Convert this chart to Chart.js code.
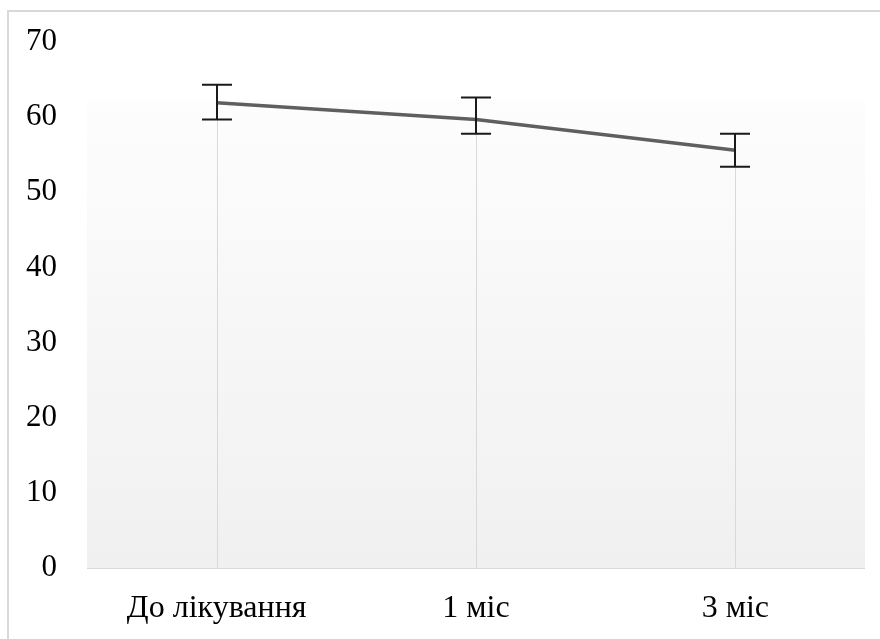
<!DOCTYPE html>
<html>
<head>
<meta charset="utf-8">
<script src="https://cdn.jsdelivr.net/npm/chart.js@4"></script>
<style>
  html, body { margin: 0; padding: 0; background: #fff; overflow: hidden; }
  #wrap { position: relative; width: 880px; height: 639px; }
  #frame { position: absolute; left: 7px; top: 10px; width: 900px; height: 700px;
           border: 2px solid #d9d9d9; box-sizing: border-box; pointer-events: none; }
  canvas { position: absolute; left: 0; top: 0; }
</style>
</head>
<body>
<div id="wrap">
  <canvas id="c" width="880" height="639"></canvas>
  <div id="frame"></div>
</div>
<script>
// Measurement periods
const periods = ['До лікування', '1 міс', '3 міс'];
// Mean values
const means = [61.9, 59.7, 55.6];
// Error bar extents above and below the mean
const errUp = [2.4, 2.9, 2.2];
const errDown = [2.2, 1.9, 2.2];
// Y-axis range
const yMin = 0, yMax = 70, yStep = 10;

const FONT = 'Liberation Serif, "Times New Roman", serif';

// Gradient panel behind the plot
const panelPlugin = {
  id: 'panel',
  beforeDraw(chart) {
    const { ctx, chartArea: a } = chart;
    const top = a.top + 58;
    const g = ctx.createLinearGradient(0, top, 0, a.bottom);
    g.addColorStop(0, '#fdfdfd');
    g.addColorStop(1, '#f0f0f0');
    ctx.save();
    ctx.fillStyle = g;
    ctx.fillRect(a.left, top, a.right - a.left, a.bottom - top);
    ctx.restore();
  }
};

// Drop lines from each point down to the category axis
const dropLinePlugin = {
  id: 'dropLines',
  beforeDatasetsDraw(chart) {
    const { ctx, chartArea: a } = chart;
    const meta = chart.getDatasetMeta(0);
    ctx.save();
    ctx.strokeStyle = '#d9d9d9';
    ctx.lineWidth = 1;
    meta.data.forEach(pt => {
      const x = Math.round(pt.x) + 0.5;
      ctx.beginPath();
      ctx.moveTo(x, pt.y);
      ctx.lineTo(x, a.bottom);
      ctx.stroke();
    });
    // category axis line
    ctx.beginPath();
    ctx.moveTo(a.left, Math.round(a.bottom) + 0.5);
    ctx.lineTo(a.right, Math.round(a.bottom) + 0.5);
    ctx.stroke();
    ctx.restore();
  }
};

// Error bars with caps
const errorBarPlugin = {
  id: 'errorBars',
  afterDatasetsDraw(chart) {
    const { ctx } = chart;
    const y = chart.scales.y;
    const meta = chart.getDatasetMeta(0);
    ctx.save();
    ctx.strokeStyle = '#1a1a1a';
    ctx.lineWidth = 2;
    meta.data.forEach((pt, i) => {
      const x = Math.round(pt.x);
      const yt = y.getPixelForValue(means[i] + errUp[i]);
      const yb = y.getPixelForValue(means[i] - errDown[i]);
      const cap = 15;
      ctx.beginPath();
      ctx.moveTo(x, yt); ctx.lineTo(x, yb);
      ctx.moveTo(x - cap, yt); ctx.lineTo(x + cap, yt);
      ctx.moveTo(x - cap, yb); ctx.lineTo(x + cap, yb);
      ctx.stroke();
    });
    ctx.restore();
  }
};

new Chart(document.getElementById('c'), {
  type: 'line',
  data: {
    labels: periods,
    datasets: [{
      data: means,
      borderColor: '#5f5f5f',
      borderWidth: 3.5,
      pointRadius: 0,
      tension: 0,
      fill: false
    }]
  },
  options: {
    responsive: false,
    animation: false,
    layout: { padding: { top: 42, right: 15, bottom: 0, left: 0 } },
    plugins: { legend: { display: false }, tooltip: { enabled: false } },
    scales: {
      x: {
        offset: true,
        grid: { display: false, drawTicks: false },
        border: { display: false },
        ticks: { color: '#000', padding: 21, font: { family: FONT, size: 32 } },
        afterFit(s) { s.height = 71; }
      },
      y: {
        min: yMin, max: yMax,
        grid: { display: false, drawTicks: false },
        border: { display: false },
        ticks: { stepSize: yStep, color: '#000', padding: 30, font: { family: FONT, size: 31 } },
        afterFit(s) { s.width = 87; s.paddingTop = 0; s.paddingBottom = 0; }
      }
    }
  },
  plugins: [panelPlugin, dropLinePlugin, errorBarPlugin]
});
</script>
</body>
</html>
